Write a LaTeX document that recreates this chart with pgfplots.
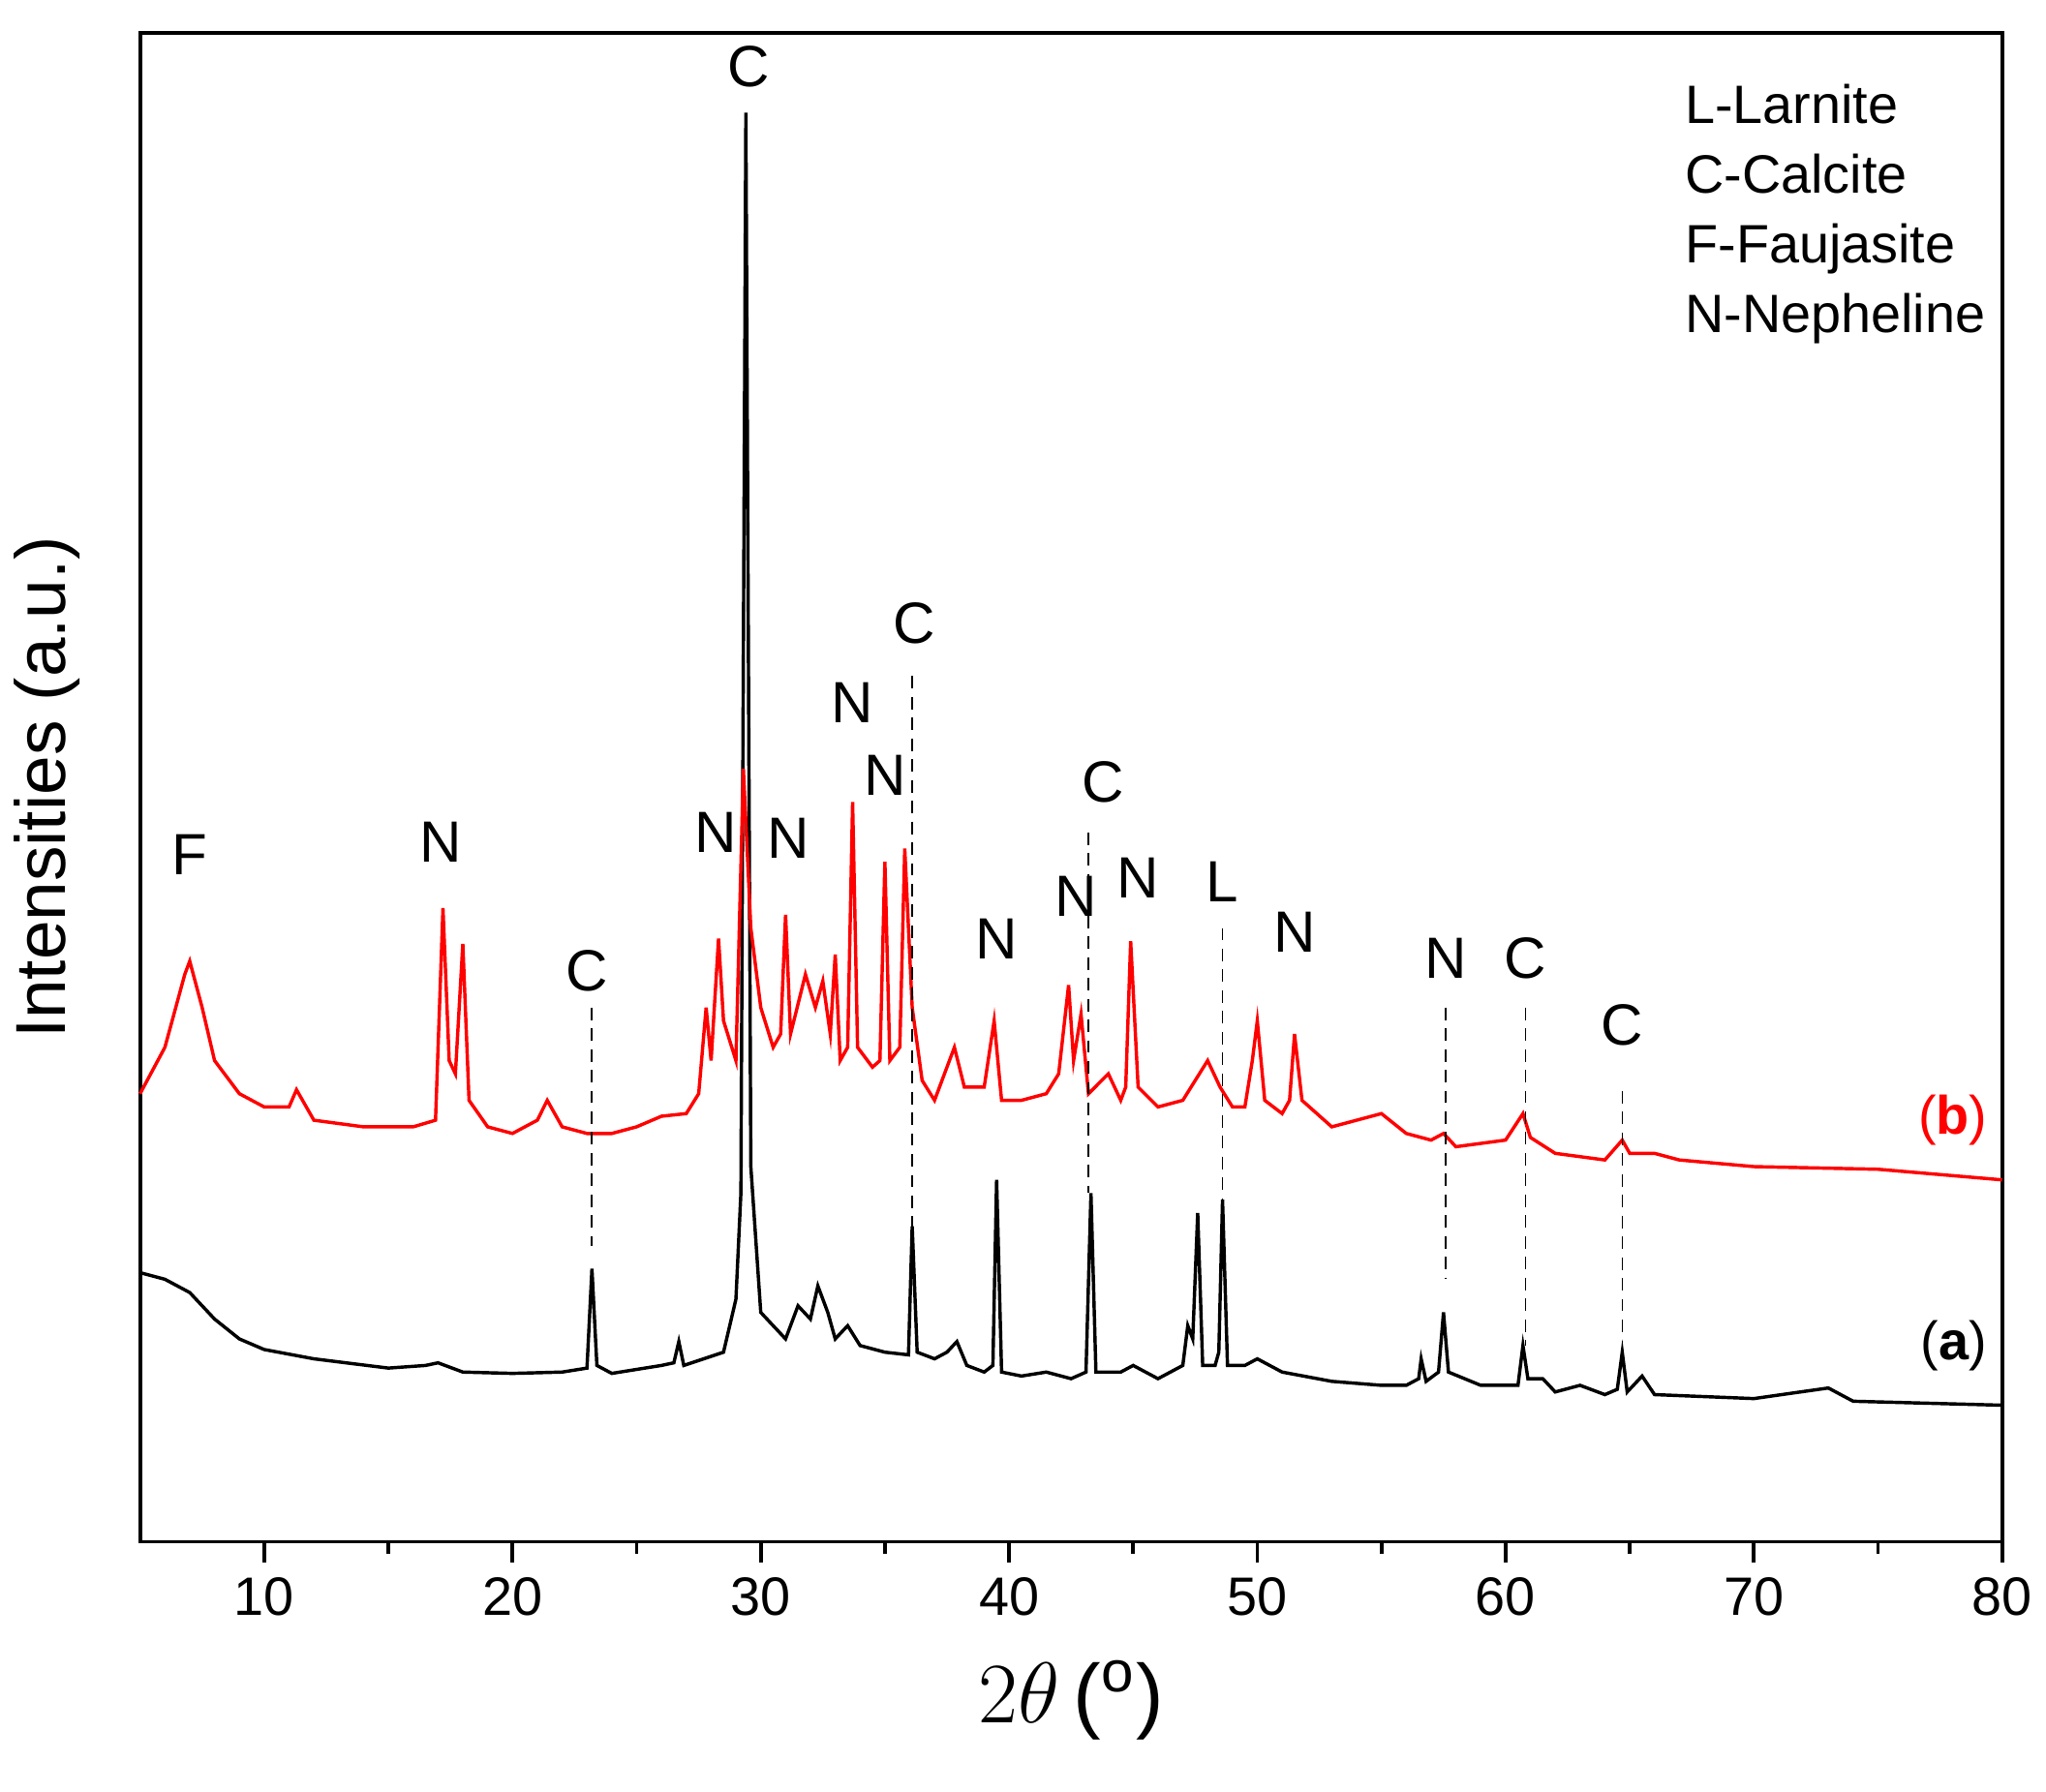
\documentclass[border=0pt]{standalone}
\usepackage{pgfplots}
\pgfplotsset{compat=1.18}
\usepackage{fontspec}
\setmainfont{Liberation Sans}
\begin{document}
\begin{tikzpicture}
\begin{axis}[scale only axis, width=448pt, height=363pt,
 xmin=5, xmax=80, ymin=0, ymax=1138,
 xtick={10,20,...,80}, minor x tick num=1, ytick=\empty,
 xtick pos=bottom,
 tick align=outside, axis line style={line width=0.9pt},
 every tick/.style={line width=0.9pt,black},
 major tick length=5pt, minor tick length=3pt,
 tick label style={font=\fontsize{13}{15}\selectfont},
 /pgf/number format/assume math mode=true,
 xlabel={\fontsize{20}{24}\selectfont $2\theta$\,($^{\mathrm{o}}$)},
 ylabel={\fontsize{17}{20}\selectfont Intensities (a.u.)},
 ylabel style={yshift=6pt},
 xlabel style={yshift=-4pt},
 clip=false]
\path (rel axis cs:0,1) ++(0,8pt) coordinate (T);
\path (rel axis cs:0,0) ++(0,-60pt) coordinate (B);
\path[use as bounding box] (T) -- (B);
\addplot[black, line width=0.8pt] table[y expr=1163-\thisrowno{1}] {
5 960
6 965
7 975
8 995
9 1010
10 1018
12 1025
15 1032
16.5 1030
17 1028
18 1035
20 1036
22 1035
23.0 1032
23.2 957
23.4 1030
24 1036
26 1030
26.5 1028
26.7 1012
26.9 1030
28.5 1020
29 980
29.2 900
29.4 85
29.6 880
30 990
30.5 1000
31 1010
31.5 985
32 995
32.3 970
32.7 990
33 1010
33.5 1000
34 1015
35 1020
35.95 1022
36.1 925
36.3 1020
37 1025
37.5 1020
37.9 1012
38.3 1030
39 1035
39.35 1030
39.5 890
39.7 1035
40.5 1038
41.5 1035
42.5 1040
43.1 1035
43.3 900
43.5 1035
44.5 1035
45 1030
46 1040
47 1030
47.2 1000
47.4 1010
47.6 915
47.8 1030
48.3 1030
48.45 1020
48.6 905
48.8 1030
49.5 1030
50 1025
51 1035
53 1042
55 1045
56 1045
56.5 1040
56.6 1025
56.8 1042
57.3 1035
57.5 990
57.7 1035
59 1045
60.5 1045
60.7 1015
60.9 1040
61.5 1040
62 1050
63 1045
64 1052
64.5 1048
64.7 1020
64.9 1050
65.5 1038
66 1052
70 1055
73 1047
74 1057
80 1060
};
\addplot[red, line width=0.8pt] table[y expr=1163-\thisrowno{1}] {
5 825
6 790
6.8 735
7 725
7.5 760
8 800
9 825
10 835
11 835
11.3 822
12 845
14 850
16 850
16.9 845
17.2 685
17.45 800
17.7 810
18 712
18.25 830
19 850
20 855
21 845
21.4 830
22 850
23 855
24 855
25 850
26 842
27 840
27.5 825
27.8 760
28 800
28.3 708
28.5 770
29 800
29.3 580
29.6 700
30 760
30.5 790
30.8 780
31 690
31.2 780
31.8 735
32.2 760
32.5 740
32.8 780
33 720
33.2 800
33.5 790
33.7 605
33.9 790
34.5 805
34.8 800
35 650
35.2 800
35.6 790
35.8 640
36.1 760
36.5 815
37 830
37.8 790
38.2 820
39 820
39.4 770
39.7 830
40.5 830
41.5 825
42 810
42.4 743
42.6 800
42.9 765
43.2 825
44 810
44.5 830
44.7 820
44.9 710
45.2 820
46 835
47 830
48 800
48.5 820
49 835
49.5 835
49.8 800
50 770
50.3 830
51 840
51.3 830
51.5 780
51.8 830
53 850
54 845
55 840
56 855
57 860
57.5 855
58 865
60 860
60.7 840
61 858
62 870
64 875
64.7 860
65 870
66 870
67 875
70 880
75 882
80 890
};
\draw[densely dashed, thin] (axis cs:23.2,403) -- (axis cs:23.2,223);
\draw[densely dashed, thin] (axis cs:36.1,653) -- (axis cs:36.1,238);
\draw[densely dashed, thin] (axis cs:43.2,535) -- (axis cs:43.2,263);
\draw[densely dashed, thin] (axis cs:48.6,463) -- (axis cs:48.6,258);
\draw[densely dashed, thin] (axis cs:57.6,403) -- (axis cs:57.6,198);
\draw[densely dashed, thin] (axis cs:60.8,403) -- (axis cs:60.8,148);
\draw[densely dashed, thin] (axis cs:64.7,340) -- (axis cs:64.7,143);
\tikzset{lab/.style={font=\fontsize{14}{16}\selectfont}}
\node[lab] at (axis cs:7,518) {F};
\node[lab] at (axis cs:17.1,528) {N};
\node[lab] at (axis cs:23,431) {C};
\node[lab] at (axis cs:29.5,1113) {C};
\node[lab] at (axis cs:28.2,535) {N};
\node[lab] at (axis cs:31.1,531) {N};
\node[lab] at (axis cs:33.7,633) {N};
\node[lab] at (axis cs:35,578) {N};
\node[lab] at (axis cs:36.2,693) {C};
\node[lab] at (axis cs:39.5,455) {N};
\node[lab] at (axis cs:42.7,487) {N};
\node[lab] at (axis cs:43.8,573) {C};
\node[lab] at (axis cs:45.2,501) {N};
\node[lab] at (axis cs:48.6,498) {L};
\node[lab] at (axis cs:51.5,460) {N};
\node[lab] at (axis cs:57.6,440) {N};
\node[lab] at (axis cs:60.8,440) {C};
\node[lab] at (axis cs:64.7,390) {C};
\node[font=\fontsize{13}{16}\selectfont, anchor=east] at (axis cs:80,318) {\textcolor{red}{(\textbf{b})}};
\node[font=\fontsize{13}{16}\selectfont, anchor=east] at (axis cs:80,148) {(\textbf{a})};
\node[font=\fontsize{13}{16.8}\selectfont, anchor=north west, align=left, inner sep=0pt] at (axis cs:67.2,1100) {L-Larnite\\C-Calcite\\F-Faujasite\\N-Nepheline};
\end{axis}
\end{tikzpicture}
\end{document}
